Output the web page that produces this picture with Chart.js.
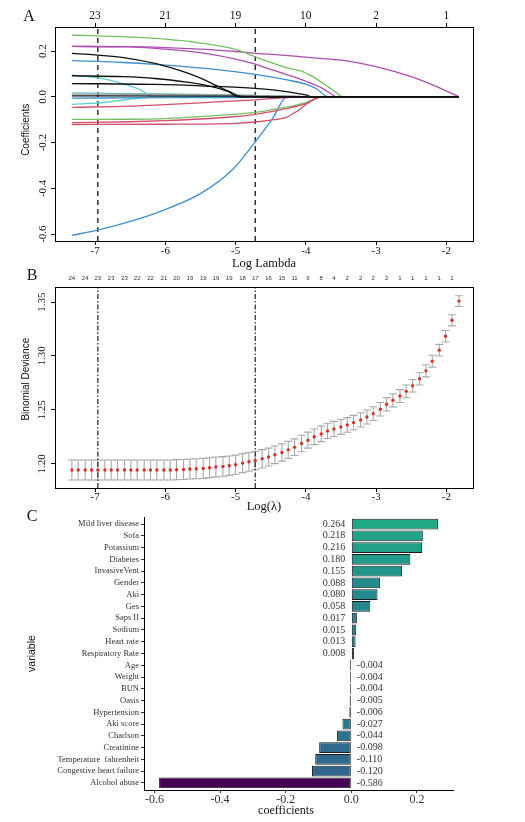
<!DOCTYPE html>
<html><head><meta charset="utf-8">
<script src="https://cdn.jsdelivr.net/npm/chart.js@4.4.1/dist/chart.umd.min.js"></script>
<style>
html,body{margin:0;padding:0;background:#fff;}
#wrap{position:relative;width:525px;height:822px;overflow:hidden;background:#fff}
canvas{position:absolute;left:0;top:0;width:525px;height:822px}
</style>
</head><body>
<div id="wrap">
<canvas id="cA" width="525" height="822"></canvas>
<canvas id="cB" width="525" height="822"></canvas>
<canvas id="cC" width="525" height="822"></canvas>
</div>
<script>
// ================= Panel A: coefficient paths =================
const xTicksA = [-7, -6, -5, -4, -3, -2];
const dfTopA = ['23', '21', '19', '10', '2', '1'];
const yTicksA = [-0.6, -0.4, -0.2, 0, 0.2];
const lambdaMinLog = -6.96;
const lambda1seLog = -4.72;

const pathA01 = [[-7.33,0.270],[-6.5,0.261],[-6.0,0.252],[-5.5,0.235],[-5.0,0.207],[-4.72,0.175],[-4.5,0.150],[-4.25,0.125],[-4.06,0.112],[-3.9,0.088],[-3.75,0.058],[-3.58,0.022],[-3.47,0],[-1.82,0]];
const pathA02 = [[-7.33,0.220],[-6.5,0.219],[-6.0,0.215],[-5.5,0.208],[-5.0,0.198],[-4.72,0.190],[-4.25,0.180],[-3.9,0.170],[-3.58,0.162],[-3.4,0.156],[-3.0,0.132],[-2.5,0.088],[-2.18,0.050],[-1.82,0]];
const pathA03 = [[-7.33,0.220],[-6.5,0.218],[-6.15,0.212],[-5.8,0.203],[-5.43,0.190],[-5.0,0.165],[-4.72,0.143],[-4.5,0.120],[-4.25,0.095],[-4.0,0.068],[-3.77,0.038],[-3.6,0.005],[-3.57,0],[-1.82,0]];
const pathA04 = [[-7.33,0.190],[-7.0,0.183],[-6.62,0.172],[-6.15,0.146],[-5.9,0.125],[-5.67,0.102],[-5.45,0.075],[-5.29,0.051],[-5.1,0.025],[-4.95,0.003],[-4.9,0],[-1.82,0]];
const pathA05 = [[-7.33,0.158],[-6.6,0.150],[-6.15,0.142],[-5.43,0.124],[-4.72,0.098],[-4.25,0.073],[-4.0,0.055],[-3.85,0.035],[-3.68,0],[-1.82,0]];
const pathA06 = [[-7.33,0.095],[-7.1,0.088],[-6.91,0.081],[-6.62,0.059],[-6.38,0.034],[-6.26,0.014],[-6.18,0],[-1.82,0]];
const pathA07 = [[-7.33,0.092],[-6.6,0.088],[-6.15,0.080],[-5.8,0.068],[-5.43,0.051],[-5.1,0.022],[-4.97,0],[-1.82,0]];
const pathA08 = [[-7.33,0.058],[-6.15,0.054],[-5.43,0.047],[-4.72,0.037],[-4.25,0.022],[-4.0,0.008],[-3.9,0],[-1.82,0]];
const pathA09 = [[-7.33,0.017],[-6.5,0.014],[-5.5,0.010],[-4.72,0.006],[-4.25,0.003],[-4.0,0],[-1.82,0]];
const pathA10 = [[-7.33,0.012],[-6.0,0.010],[-5.0,0.007],[-4.2,0.003],[-3.9,0],[-1.82,0]];
const pathA11 = [[-7.33,-0.006],[-6.0,-0.004],[-5.0,-0.003],[-4.2,0],[-1.82,0]];
const pathA12 = [[-7.33,0.004],[-5.0,0.003],[-4.5,0],[-1.82,0]];
const pathA13 = [[-7.33,-0.033],[-6.91,-0.026],[-6.62,-0.015],[-6.33,-0.005],[-6.1,0],[-1.82,0]];
const pathA14 = [[-7.33,-0.046],[-6.5,-0.041],[-6.15,-0.036],[-5.43,-0.025],[-4.72,-0.013],[-4.25,-0.003],[-4.1,0],[-1.82,0]];
const pathA15 = [[-7.33,-0.099],[-6.5,-0.098],[-6.0,-0.095],[-5.5,-0.087],[-5.0,-0.076],[-4.72,-0.068],[-4.28,-0.045],[-4.0,-0.025],[-3.75,0],[-1.82,0]];
const pathA16 = [[-7.33,-0.113],[-6.5,-0.109],[-6.0,-0.104],[-5.5,-0.097],[-5.0,-0.086],[-4.72,-0.077],[-4.28,-0.052],[-4.0,-0.030],[-3.77,0],[-1.82,0]];
const pathA17 = [[-7.33,-0.121],[-6.0,-0.120],[-5.0,-0.116],[-4.72,-0.110],[-4.45,-0.100],[-4.28,-0.090],[-4.1,-0.058],[-3.95,-0.022],[-3.8,0],[-1.82,0]];
const pathA18 = [[-7.33,-0.605],[-6.98,-0.584],[-6.45,-0.540],[-6.03,-0.496],[-5.5,-0.423],[-5.03,-0.314],[-4.73,-0.201],[-4.47,-0.093],[-4.27,0],[-1.82,0]];

// ================= Panel B: cross-validation curve =================
const lambdaB = [-7.33,-7.24,-7.14,-7.05,-6.96,-6.86,-6.77,-6.68,-6.58,-6.49,-6.40,-6.30,-6.21,-6.12,-6.02,-5.93,-5.84,-5.74,-5.65,-5.56,-5.46,-5.37,-5.28,-5.18,-5.09,-5.00,-4.90,-4.81,-4.72,-4.62,-4.53,-4.44,-4.34,-4.25,-4.16,-4.06,-3.97,-3.88,-3.78,-3.69,-3.60,-3.50,-3.41,-3.32,-3.22,-3.13,-3.04,-2.94,-2.85,-2.76,-2.66,-2.57,-2.48,-2.38,-2.29,-2.20,-2.10,-2.01,-1.92,-1.82];
const devB = [1.1942,1.1942,1.1942,1.1942,1.1942,1.1942,1.1942,1.1942,1.1942,1.1942,1.1942,1.1942,1.1942,1.1942,1.1942,1.1942,1.1945,1.1947,1.1951,1.1954,1.1957,1.1963,1.1970,1.1975,1.1982,1.1991,1.2006,1.2018,1.2030,1.2046,1.2062,1.2083,1.2104,1.2129,1.2154,1.2188,1.2219,1.2250,1.2277,1.2305,1.2323,1.2342,1.2360,1.2382,1.2407,1.2434,1.2465,1.2506,1.2552,1.2589,1.2628,1.2672,1.2724,1.2788,1.2862,1.2952,1.3054,1.3183,1.3331,1.3509];
const seB = [0.0093,0.0093,0.0093,0.0093,0.0093,0.0093,0.0093,0.0093,0.0093,0.0093,0.0093,0.0093,0.0093,0.0093,0.0093,0.0093,0.0093,0.0093,0.0093,0.0093,0.0093,0.0092,0.0092,0.0091,0.0090,0.0089,0.0088,0.0087,0.0086,0.0085,0.0083,0.0082,0.0080,0.0079,0.0077,0.0076,0.0074,0.0073,0.0072,0.0071,0.0070,0.0069,0.0068,0.0067,0.0066,0.0065,0.0064,0.0063,0.0062,0.0061,0.0060,0.0059,0.0058,0.0057,0.0056,0.0055,0.0054,0.0053,0.0052,0.0050];
const dfTopB = ['24','24','23','23','23','22','22','21','20','19','19','19','19','18','17','16','15','11','9','8','4','2','2','2','2','1','1','1','1','1'];
const xTicksB = [-7, -6, -5, -4, -3, -2];
const yTicksB = [1.20, 1.25, 1.30, 1.35];

// ================= Panel C: selected coefficients =================
const varNames = ['Mild liver disease','Sofa','Potassium','Diabetes','InvasiveVent','Gender','Aki','Ges','Saps II','Sodium','Heart rate','Respiratory Rate','Age','Weight','BUN','Oasis','Hypertension','Aki score','Charlson','Creatinine','Temperature  fahrenheit','Congestive heart failure','Alcohol abuse'];
const coefs = [0.264,0.218,0.216,0.180,0.155,0.088,0.080,0.058,0.017,0.015,0.013,0.008,-0.004,-0.004,-0.004,-0.005,-0.006,-0.027,-0.044,-0.098,-0.110,-0.120,-0.586];
const xTicksC = [-0.6, -0.4, -0.2, 0.0, 0.2];

// ================= styling helpers =================
const SERIF = "'Liberation Serif','Times New Roman',serif";
const SANS = "'Liberation Sans',Arial,Helvetica,sans-serif";
const C_BLACK = '#111111', C_RED = '#d2506a', C_GREEN = '#74c062', C_BLUE = '#3d8fcf',
      C_CYAN = '#62cdd3', C_PURPLE = '#ad4fb2', C_GRAY = '#9a9a9a';

function fixTicks(vals) { return s => { s.ticks = vals.map(v => ({ value: v })); }; }
const framePlugin = { id: 'frame', afterDraw(c) {
  const a = c.chartArea, ctx = c.ctx;
  ctx.save(); ctx.strokeStyle = '#000'; ctx.lineWidth = 1;
  ctx.strokeRect(Math.round(a.left) + 0.5, Math.round(a.top) + 0.5, Math.round(a.right - a.left), Math.round(a.bottom - a.top));
  ctx.restore();
}};

const seriesA = [
  [pathA04, C_BLACK], [pathA07, C_BLACK], [pathA08, C_BLACK], [pathA12, C_BLACK],
  [pathA14, C_RED], [pathA16, C_RED], [pathA17, C_RED],
  [pathA01, C_GREEN], [pathA15, C_GREEN],
  [pathA05, C_BLUE], [pathA18, C_BLUE], [pathA11, C_BLUE],
  [pathA10, C_GRAY], [pathA06, C_CYAN], [pathA13, C_CYAN], [pathA09, C_CYAN],
  [pathA02, C_PURPLE], [pathA03, C_PURPLE]
];
const yMinA = -0.63, yMaxA = 0.305, xMinA = -7.57, xMaxA = -1.62;

const axisGrid = { display: true, drawOnChartArea: false, drawTicks: true, tickLength: 4, color: '#000', lineWidth: 1 };
const axisBorder = { display: true, color: '#000', width: 1 };

const datasetsA = seriesA.map(([p, col]) => ({
  data: p.map(([x, y]) => ({ x, y })), borderColor: col, borderWidth: 1.3,
  pointRadius: 0, cubicInterpolationMode: 'monotone', fill: false
}));
[lambdaMinLog, lambda1seLog].forEach(l => datasetsA.push({
  data: [{ x: l, y: yMinA }, { x: l, y: yMaxA }], borderColor: '#000', borderWidth: 1.2,
  borderDash: [5, 4], pointRadius: 0, fill: false
}));

new Chart(document.getElementById('cA'), {
  type: 'line',
  data: { datasets: datasetsA },
  options: {
    responsive: false, animation: false, events: [],
    layout: { padding: { left: 0, top: 0, right: 52, bottom: 550 } },
    plugins: { legend: { display: false }, tooltip: { enabled: false } },
    scales: {
      x: { type: 'linear', position: 'bottom', min: xMinA, max: xMaxA,
        afterBuildTicks: fixTicks(xTicksA), afterFit: s => { s.height = 31; },
        grid: axisGrid, border: axisBorder,
        ticks: { font: { family: SERIF, size: 11 }, color: C_BLACK, padding: 0, callback: v => String(v) },
        title: { display: true, text: 'Log Lambda', font: { family: SERIF, size: 12.5 }, color: C_BLACK, padding: { top: 0, bottom: 0.5 } } },
      x2: { type: 'linear', position: 'top', min: xMinA, max: xMaxA,
        afterBuildTicks: fixTicks(xTicksA), afterFit: s => { s.height = 27; },
        grid: axisGrid, border: axisBorder,
        ticks: { font: { family: SERIF, size: 11.5 }, color: C_BLACK, padding: 0, callback: (v, i) => dfTopA[i] } },
      y: { type: 'linear', min: yMinA, max: yMaxA,
        afterBuildTicks: fixTicks(yTicksA), afterFit: s => { s.width = 55; },
        grid: axisGrid, border: axisBorder,
        ticks: { font: { family: SERIF, size: 11 }, color: C_BLACK, padding: -1, minRotation: 90, maxRotation: 90, crossAlign: 'center', callback: v => v.toFixed(1) },
        title: { display: true, text: '   Coefficients', font: { family: SANS, size: 10 }, color: C_BLACK, padding: { top: 20.4, bottom: 0 } } }
    }
  },
  plugins: [framePlugin]
});

// ================= Chart B =================
const yMinB = 1.1775, yMaxB = 1.364;
const errorBarPlugin = { id: 'errbars', beforeDatasetsDraw(c) {
  const xs = c.scales.x, ys = c.scales.y, ctx = c.ctx;
  ctx.save(); ctx.strokeStyle = '#a9a9a9'; ctx.lineWidth = 1.1;
  lambdaB.forEach((l, i) => {
    const px = xs.getPixelForValue(l);
    const lo = ys.getPixelForValue(devB[i] - seB[i]);
    const hi = ys.getPixelForValue(devB[i] + seB[i]);
    ctx.beginPath();
    ctx.moveTo(px, lo); ctx.lineTo(px, hi);
    ctx.moveTo(px - 4, lo); ctx.lineTo(px + 4, lo);
    ctx.moveTo(px - 4, hi); ctx.lineTo(px + 4, hi);
    ctx.stroke();
  });
  ctx.restore();
}};

const datasetsB = [{
  data: lambdaB.map((l, i) => ({ x: l, y: devB[i] })), showLine: false,
  pointRadius: 1.7, pointBackgroundColor: '#d9312b', pointBorderWidth: 0, pointStyle: 'circle'
}];
[lambdaMinLog, lambda1seLog].forEach(l => datasetsB.push({
  data: [{ x: l, y: yMinB }, { x: l, y: yMaxB }], borderColor: '#222', borderWidth: 1.2,
  borderDash: [5, 2, 1.5, 2], pointRadius: 0, fill: false
}));

new Chart(document.getElementById('cB'), {
  type: 'line',
  data: { datasets: datasetsB },
  options: {
    responsive: false, animation: false, events: [],
    layout: { padding: { left: 0, top: 261, right: 52, bottom: 304 } },
    plugins: { legend: { display: false }, tooltip: { enabled: false } },
    scales: {
      x: { type: 'linear', position: 'bottom', min: xMinA, max: xMaxA,
        afterBuildTicks: fixTicks(xTicksB), afterFit: s => { s.height = 30; },
        grid: axisGrid, border: axisBorder,
        ticks: { font: { family: SERIF, size: 11 }, color: C_BLACK, padding: -1, callback: v => String(v) },
        title: { display: true, text: 'Log(λ)', font: { family: SERIF, size: 12.5 }, color: C_BLACK, padding: { top: 0, bottom: 3.5 } } },
      x2: { type: 'linear', position: 'top', min: xMinA, max: xMaxA,
        afterBuildTicks: s => { s.ticks = dfTopB.map((_, k) => ({ value: lambdaB[2 * k] })); },
        afterFit: s => { s.height = 26; },
        grid: { display: false, drawTicks: false, tickLength: 0 }, border: { display: false },
        ticks: { autoSkip: false, font: { family: SANS, size: 6 }, color: '#333', padding: 5, maxRotation: 0, callback: (v, i) => dfTopB[i] } },
      y: { type: 'linear', min: yMinB, max: yMaxB,
        afterBuildTicks: fixTicks(yTicksB), afterFit: s => { s.width = 55; },
        grid: axisGrid, border: axisBorder,
        ticks: { font: { family: SERIF, size: 11 }, color: C_BLACK, padding: -1, minRotation: 90, maxRotation: 90, crossAlign: 'center', callback: v => v.toFixed(2) },
        title: { display: true, text: '      Binomial Deviance', font: { family: SANS, size: 10 }, color: C_BLACK, padding: { top: 20.4, bottom: 0 } } }
    }
  },
  plugins: [errorBarPlugin, framePlugin]
});

// ================= Chart C =================
const VIR = ['#440154','#482475','#414487','#355f8d','#2a788e','#21918c','#22a884','#44bf70','#7ad151','#bddf26','#fde725'];
function hexToRgb(h) { return [1, 3, 5].map(k => parseInt(h.substr(k, 2), 16)); }
function viridis(t) {
  const p = Math.max(0, Math.min(1, t)) * 10, i = Math.min(9, Math.floor(p)), f = p - i;
  const a = hexToRgb(VIR[i]), b = hexToRgb(VIR[i + 1]);
  return 'rgb(' + a.map((v, k) => Math.round(v + (b[k] - v) * f)).join(',') + ')';
}
const cMin = Math.min(...coefs), cMax = Math.max(...coefs);
const barColors = coefs.map(v => viridis((v - cMin) / (cMax - cMin) * 0.6));

const valueLabelPlugin = { id: 'vlabels', afterDatasetsDraw(c) {
  const ctx = c.ctx, meta = c.getDatasetMeta(0), zero = c.scales.x.getPixelForValue(0);
  ctx.save(); ctx.font = '10px ' + SERIF; ctx.fillStyle = '#333'; ctx.textBaseline = 'middle';
  meta.data.forEach((el, i) => {
    const v = coefs[i], txt = v.toFixed(3);
    if (v >= 0) { ctx.textAlign = 'right'; ctx.fillText(txt, zero - 6, el.y); }
    else { ctx.textAlign = 'left'; ctx.fillText(txt, zero + 5.5, el.y); }
  });
  ctx.restore();
}};
const textPlugin = { id: 'texts', afterDraw(c) {
  const ctx = c.ctx;
  ctx.save(); ctx.fillStyle = C_BLACK; ctx.textAlign = 'center'; ctx.textBaseline = 'middle';
  ctx.font = '16px ' + SERIF;
  ctx.fillText('A', 29, 17); ctx.fillText('B', 32, 276); ctx.fillText('C', 32, 517);
  ctx.font = '12px ' + SERIF;
  ctx.fillText('coefficients', 286, 811);
  ctx.restore();
}};

new Chart(document.getElementById('cC'), {
  type: 'bar',
  data: { datasets: [{
    data: coefs.map((v, i) => ({ x: v, y: i })),
    backgroundColor: barColors, borderColor: '#1c1c1c', borderWidth: 1, borderSkipped: false,
    barPercentage: 0.92, categoryPercentage: 1
  }]},
  options: {
    indexAxis: 'y', responsive: false, animation: false, events: [],
    layout: { padding: { left: 0, top: 517, right: 72, bottom: 2 } },
    plugins: { legend: { display: false }, tooltip: { enabled: false } },
    scales: {
      x: { type: 'linear', min: -0.632, max: 0.31, offset: false,
        afterBuildTicks: fixTicks(xTicksC), afterFit: s => { s.height = 30; },
        grid: { display: true, drawOnChartArea: false, drawTicks: true, tickLength: 3, color: '#333', offset: false },
        border: { display: true, color: '#000', width: 1 },
        ticks: { font: { family: SERIF, size: 12 }, color: '#333', padding: 0, callback: v => v.toFixed(1) } },
      y: { type: 'linear', reverse: true, min: -0.6, max: 22.6, offset: false,
        afterBuildTicks: fixTicks(varNames.map((_, i) => i)), afterFit: s => { s.width = 144; },
        grid: { display: true, drawOnChartArea: false, drawTicks: true, tickLength: 3, color: '#333', offset: false },
        border: { display: true, color: '#000', width: 1 },
        ticks: { autoSkip: false, font: { family: SERIF, size: 8.5 }, color: '#333', padding: 2, callback: (v, i) => varNames[i] },
        title: { display: true, text: 'variable', font: { family: SANS, size: 10.5 }, color: C_BLACK, padding: { top: 25.4, bottom: 0 } } }
    }
  },
  plugins: [valueLabelPlugin, textPlugin]
});
</script>
</body></html>
